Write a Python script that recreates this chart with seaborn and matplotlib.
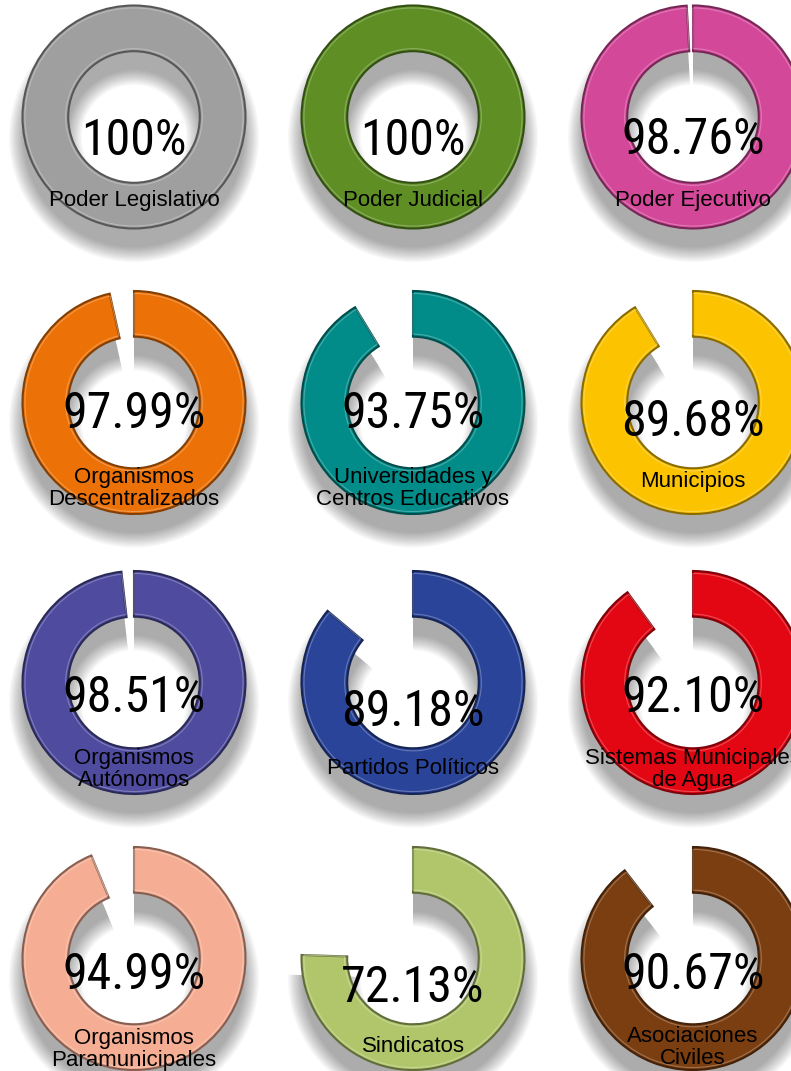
import numpy as np
import matplotlib
matplotlib.use("Agg")
import matplotlib.pyplot as plt
import matplotlib.colors as mcolors
from matplotlib import font_manager as fm
import seaborn as sns

# textos de cada dona (fila por fila)
labels = ["Poder Legislativo", "Poder Judicial", "Poder Ejecutivo",
          "Organismos\nDescentralizados", "Universidades y\nCentros Educativos", "Municipios",
          "Organismos\nAutónomos", "Partidos Políticos", "Sistemas Municipales\nde Agua",
          "Organismos\nParamunicipales", "Sindicatos", "Asociaciones\nCiviles"]
pct_text = ["100%", "100%", "98.76%",
            "97.99%", "93.75%", "89.68%",
            "98.51%", "89.18%", "92.10%",
            "94.99%", "72.13%", "90.67%"]
# parte rellena de cada anillo (no siempre coincide con el texto)
arc_share = [100, 100, 99.1,
             96.5, 91.3, 91.3,
             98.2, 86.1, 90.0,
             93.75, 75.5, 89.5]
ring_colors = ["#9f9f9f", "#5f8f24", "#d4489a",
               "#ec7208", "#018c89", "#fbc300",
               "#4f4c9f", "#2a4499", "#e30613",
               "#f5ad93", "#b1c66b", "#7a3e11"]

# layout en pixeles
W, H = 791, 1071
col_x = [134, 413, 693]
row_y = [117, 402.5, 682.5, 958.5]
R = 111.5          # radio exterior
HALF = 160         # medio lado de cada axes
pct_base = [38, 38, 37, 26, 26, 33, 29, 43, 29, 30, 44, 30]   # baseline del porcentaje bajo el centro
lab_mid = [84, 84, 84, 86, 86, 79, 87, 86, 87, 91, 88, 89]     # centro de la etiqueta bajo el centro

sns.set_theme(style="white")
plt.rcParams["font.family"] = ["Liberation Sans", "DejaVu Sans"]

# fuente estrecha para los porcentajes, si hay alguna
installed = {(f.name, f.stretch) for f in fm.fontManager.ttflist}
installed_names = {n for n, _ in installed}
pct_font = dict(family=["Roboto", "DejaVu Sans"], fontsize=33)
for fam in ["Roboto Condensed", "Liberation Sans Narrow", "Arial Narrow", "Open Sans Condensed"]:
    if fam in installed_names:
        pct_font = dict(family=[fam, "DejaVu Sans"], fontsize=36)
        break
else:
    for n, st in installed:
        if n in ("Roboto", "DejaVu Sans", "Noto Sans", "Open Sans") and str(st) in ("condensed", "semi-condensed", "75", "87.5"):
            pct_font = dict(family=[n, "DejaVu Sans"], fontsize=36, fontstretch="condensed")
            break

fig = plt.figure(figsize=(W / 100, H / 100), dpi=100)
fig.patch.set_facecolor("white")

ring_w = 0.41
lim = HALF / R

for i in range(12):
    r, c = divmod(i, 3)
    cx, cy = col_x[c], row_y[r]
    ax = fig.add_axes([(cx - HALF) / W, 1 - (cy + HALF) / H, 2 * HALF / W, 2 * HALF / H])
    ax.axis("off")

    vals = [arc_share[i], 100 - arc_share[i]]
    base = np.array(mcolors.to_rgb(ring_colors[i]))
    dark = tuple(base * 0.55)
    light = tuple(base + (1 - base) * 0.45)

    # sombra difusa desplazada hacia abajo
    for k in range(13):
        s = k * 0.011
        wd, _ = ax.pie(vals, startangle=90, counterclock=False, radius=0.99 + s,
                       center=(0, -0.18), colors=["black", "white"],
                       wedgeprops=dict(width=ring_w - 0.02 + 2 * s, linewidth=0, alpha=0.027))
        wd[1].set_visible(False)

    # anillo
    wd, _ = ax.pie(vals, startangle=90, counterclock=False, radius=1,
                   colors=[ring_colors[i], "white"],
                   wedgeprops=dict(width=ring_w, edgecolor=dark, linewidth=1.5))
    wd[1].set_visible(False)
    # brillo del bisel
    wd, _ = ax.pie(vals, startangle=90, counterclock=False, radius=0.978,
                   colors=["none", "none"],
                   wedgeprops=dict(width=ring_w - 0.045, edgecolor=light, linewidth=0.8,
                                   fill=False, alpha=0.6))
    wd[1].set_visible(False)

    ax.set_xlim(-lim, lim)
    ax.set_ylim(-lim, lim)
    ax.set_aspect("equal")

    ax.text(0, -pct_base[i] / R, pct_text[i], ha="center", va="baseline",
            color="black", **pct_font)
    ax.text(0, -lab_mid[i] / R, labels[i], ha="center", va="center",
            fontsize=16, color="black", linespacing=1.05,
            family=["Liberation Sans", "DejaVu Sans"])

fig.savefig("out.png", dpi=100, facecolor="white")
